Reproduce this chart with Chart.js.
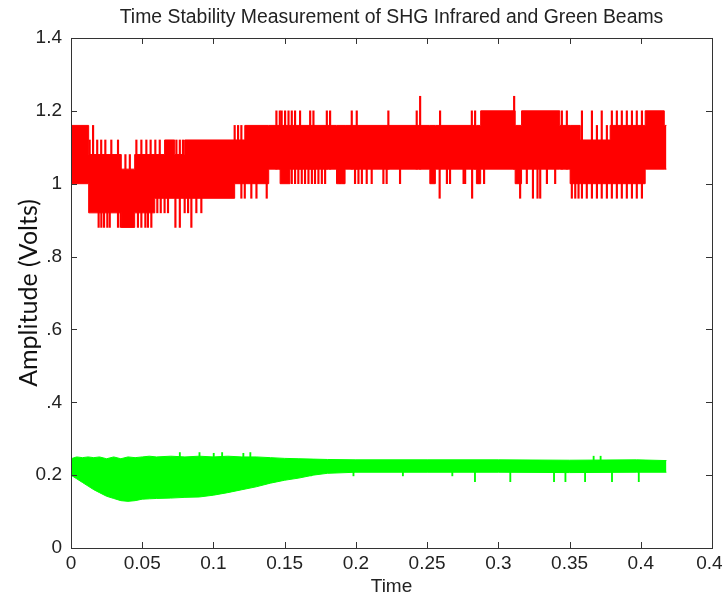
<!DOCTYPE html>
<html>
<head>
<meta charset="utf-8">
<script src="https://cdn.jsdelivr.net/npm/chart.js@4"></script>
<style>
  html, body { margin: 0; padding: 0; background: #fff; }
  #wrap { width: 723px; height: 598px; }
</style>
</head>
<body>
<div id="wrap"><canvas id="stabilityChart"></canvas></div>
<script>
// Tick labels as they appear on the figure (last one is cut at the edge)
const xTickLabels = ['0', '0.05', '0.1', '0.15', '0.2', '0.25', '0.3', '0.35', '0.4', '0.4 '];
const yTickLabels = ['0', '0.2', '.4', '.6', '.8', '1', '1.2', '1.4'];

// Infrared (red) beam: solid band, value holds until next breakpoint
const redT   = [0, 0.0124, 0.0353, 0.0447, 0.0588, 0.0657, 0.0728, 0.0798, 0.1149, 0.122, 0.1388, 0.1468, 0.1537, 0.1864, 0.1924, 0.2519, 0.2558, 0.2846, 0.2876, 0.3118, 0.3163, 0.3431, 0.3504, 0.3575, 0.3785, 0.4031, 0.4165, 0.418];
const redTop = [1.16, 1.08, 1.04, 1.08, 1.08, 1.12, 1.08, 1.12, 1.12, 1.16, 1.16, 1.16, 1.16, 1.16, 1.16, 1.16, 1.16, 1.16, 1.2, 1.16, 1.2, 1.16, 1.16, 1.12, 1.16, 1.2, 1.16, 1.16];
const redBot = [1.0, 0.92, 0.88, 0.92, 0.96, 0.96, 0.96, 0.96, 1.0, 1.0, 1.04, 1.0, 1.04, 1.0, 1.04, 1.0, 1.04, 1.0, 1.04, 1.0, 1.04, 1.04, 1.0, 1.0, 1.0, 1.04, 1.04, 1.04];

// Infrared beam: single-sample spikes (time, tip value)
const redSpikeT = [
  0.0131, 0.0155, 0.0184, 0.0212, 0.0241, 0.0283, 0.033, 0.0382, 0.0413,
  0.0459, 0.0494, 0.0529, 0.0559, 0.0592, 0.0623, 0.074, 0.0764, 0.0786,
  0.1149, 0.1173, 0.1196, 0.1442, 0.1466, 0.1479, 0.1503, 0.1527, 0.155, 0.1573,
  0.1608, 0.1679, 0.1702, 0.1796, 0.1819, 0.1971, 0.2006, 0.2228, 0.2427, 0.2451,
  0.2591, 0.2814, 0.2837, 0.3111, 0.3446, 0.3481, 0.3587, 0.3657, 0.3692, 0.3726,
  0.3762, 0.3797, 0.3832, 0.3867, 0.3902, 0.3938, 0.3972, 0.4008,
  0.0194, 0.0213, 0.0232, 0.0255, 0.0272, 0.033, 0.0349, 0.047, 0.0494, 0.0522,
  0.054, 0.0564, 0.0606, 0.063, 0.0657, 0.0681, 0.0733, 0.0764, 0.0798, 0.0822,
  0.0845, 0.088, 0.0915, 0.1196, 0.122, 0.1266, 0.1302, 0.1374,
  0.155, 0.1573, 0.1596, 0.162, 0.1643, 0.1667, 0.1691, 0.1713, 0.1737, 0.1761,
  0.1784, 0.1889, 0.1913, 0.1994, 0.2018, 0.2042, 0.2076, 0.2111, 0.2193, 0.2216,
  0.231, 0.2588, 0.2639, 0.2661, 0.2756, 0.2767, 0.2816, 0.2861, 0.29,
  0.3153, 0.32, 0.3243, 0.3275, 0.3294, 0.3341, 0.3399,
  0.3516, 0.354, 0.3563, 0.3587, 0.3621, 0.3657, 0.3692, 0.3726, 0.3762, 0.3797,
  0.3832, 0.3867, 0.3902, 0.3938, 0.3972, 0.4008
];
const redSpikeV = [
  1.12, 1.16, 1.12, 1.12, 1.12, 1.12, 1.12, 1.08, 1.08,
  1.12, 1.12, 1.12, 1.12, 1.12, 1.12, 1.12, 1.12, 1.12,
  1.16, 1.16, 1.16, 1.2, 1.2, 1.2, 1.2, 1.2, 1.2, 1.2,
  1.2, 1.2, 1.2, 1.2, 1.2, 1.2, 1.2, 1.2, 1.2, 1.24,
  1.2, 1.2, 1.2, 1.24, 1.2, 1.2, 1.2, 1.2, 1.16, 1.2,
  1.16, 1.2, 1.2, 1.2, 1.2, 1.2, 1.2, 1.2,
  0.88, 0.88, 0.88, 0.88, 0.88, 0.88, 0.88, 0.88, 0.88, 0.88,
  0.88, 0.88, 0.92, 0.92, 0.92, 0.92, 0.88, 0.88, 0.92, 0.92,
  0.88, 0.92, 0.92, 0.96, 0.96, 0.96, 0.96, 0.96,
  1.0, 1.0, 1.0, 1.0, 1.0, 1.0, 1.0, 1.0, 1.0, 1.0,
  1.0, 1.0, 1.0, 1.0, 1.0, 1.0, 1.0, 1.0, 1.0, 1.0,
  1.0, 0.96, 1.0, 1.0, 1.0, 1.0, 0.96, 1.0, 1.0,
  0.96, 1.0, 0.96, 0.96, 0.96, 1.0, 1.0,
  0.96, 0.96, 0.96, 0.96, 0.96, 0.96, 0.96, 0.96, 0.96, 0.96,
  0.96, 0.96, 0.96, 0.96, 0.96, 0.96
];

// Green beam: band envelope
const greenT   = [0, 0.004, 0.008, 0.012, 0.016, 0.02, 0.025, 0.03, 0.035, 0.04, 0.045, 0.05, 0.055, 0.06, 0.07, 0.08, 0.09, 0.1, 0.11, 0.12, 0.13, 0.14, 0.15, 0.16, 0.17, 0.18, 0.2, 0.25, 0.3, 0.35, 0.397, 0.418];
const greenTop = [0.245, 0.25, 0.248, 0.25, 0.248, 0.25, 0.245, 0.25, 0.245, 0.25, 0.248, 0.25, 0.252, 0.25, 0.252, 0.25, 0.252, 0.25, 0.252, 0.25, 0.25, 0.248, 0.246, 0.245, 0.244, 0.243, 0.242, 0.242, 0.242, 0.241, 0.242, 0.24];
const greenBot = [0.2, 0.19, 0.18, 0.17, 0.16, 0.152, 0.142, 0.136, 0.13, 0.128, 0.13, 0.134, 0.135, 0.136, 0.137, 0.139, 0.14, 0.145, 0.152, 0.16, 0.168, 0.178, 0.186, 0.192, 0.2, 0.205, 0.208, 0.208, 0.208, 0.207, 0.208, 0.208];

// Green beam spikes
const greenSpikeT = [0.0764, 0.0902, 0.1002, 0.1061, 0.121, 0.1259, 0.3669, 0.3718, 0.1686, 0.1983, 0.233, 0.2677, 0.2836, 0.3084, 0.3391, 0.3471, 0.3609, 0.3798, 0.3986];
const greenSpikeV = [0.262, 0.262, 0.26, 0.262, 0.26, 0.262, 0.252, 0.252, 0.198, 0.198, 0.198, 0.198, 0.182, 0.182, 0.182, 0.182, 0.182, 0.182, 0.182];

const RED = '#ff0000';
const GREEN = '#00ff00';
const RED_BASE = 1.04;
const GREEN_BASE = 0.22;

function pts(t, v) { return t.map((x, i) => ({ x: x, y: v[i] })); }
function spikes(t, v, base) { return t.map((x, i) => ({ x: x, y: [v[i], base] })); }

const bandLine = (data, color, fill, stepped) => ({
    type: 'line', data: data, borderColor: color, backgroundColor: color,
    borderWidth: 1, pointRadius: 0, fill: fill, stepped: stepped, tension: 0
});
const spikeBars = (data, color, w) => ({
    type: 'bar', data: data, backgroundColor: color, borderWidth: 0,
    barThickness: w, grouped: false
});

// frame box with inward ticks on all four sides (matlab look)
const frameTicks = {
    id: 'frameTicks',
    afterDatasetsDraw(chart) {
        const { ctx, chartArea: a, scales: { x, y } } = chart;
        ctx.save();
        ctx.strokeStyle = '#333';
        ctx.lineWidth = 1;
        ctx.beginPath();
        x.ticks.forEach(t => {
            const px = Math.round(x.getPixelForValue(t.value)) + 0.5;
            ctx.moveTo(px, a.bottom); ctx.lineTo(px, a.bottom - 6);
            ctx.moveTo(px, a.top); ctx.lineTo(px, a.top + 6);
        });
        y.ticks.forEach(t => {
            const py = Math.round(y.getPixelForValue(t.value)) + 0.5;
            ctx.moveTo(a.left, py); ctx.lineTo(a.left + 6, py);
            ctx.moveTo(a.right, py); ctx.lineTo(a.right - 6, py);
        });
        ctx.stroke();
        ctx.strokeRect(Math.round(a.left) + 0.5, Math.round(a.top) + 0.5,
            Math.round(a.right - a.left), Math.round(a.bottom - a.top));
        ctx.restore();
    }
};

const tickFont = { family: "'Liberation Sans', Arial, sans-serif", size: 19 };

new Chart(document.getElementById('stabilityChart'), {
    type: 'line',
    data: {
        datasets: [
            bandLine(pts(redT, redBot), RED, false, true),
            bandLine(pts(redT, redTop), RED, '-1', true),
            spikeBars(spikes(redSpikeT, redSpikeV, RED_BASE), RED, 1.5),
            bandLine(pts(greenT, greenBot), GREEN, false, false),
            bandLine(pts(greenT, greenTop), GREEN, '-1', false),
            spikeBars(spikes(greenSpikeT, greenSpikeV, GREEN_BASE), GREEN, 1.2)
        ]
    },
    options: {
        responsive: true,
        maintainAspectRatio: false,
        animation: false,
        layout: { padding: { left: 0, right: 11, top: 0, bottom: 0 } },
        plugins: {
            legend: { display: false },
            tooltip: { enabled: false },
            title: {
                display: true,
                fullSize: false,
                text: 'Time Stability Measurement of SHG Infrared and Green Beams',
                color: '#222',
                font: { family: "'Liberation Sans', Arial, sans-serif", size: 19.4, weight: 'normal' },
                padding: { top: 6, bottom: 8.7 }
            }
        },
        scales: {
            x: {
                type: 'linear',
                min: 0, max: 0.45,
                offset: false,
                grid: { display: false, drawTicks: false },
                border: { display: false },
                ticks: {
                    stepSize: 0.05, autoSkip: false, maxRotation: 0,
                    color: '#222', font: tickFont, padding: 4,
                    callback: (v, i) => xTickLabels[i]
                },
                title: {
                    display: true, text: 'Time', color: '#222',
                    font: { family: "'Liberation Sans', Arial, sans-serif", size: 19 },
                    padding: { top: 0, bottom: 0 }
                },
                afterFit: s => { s.height = 50; s.paddingLeft = 0; s.paddingRight = 0; }
            },
            y: {
                min: 0, max: 1.4,
                grid: { display: false, drawTicks: false },
                border: { display: false },
                ticks: {
                    stepSize: 0.2, color: '#222', font: tickFont, padding: 9,
                    callback: (v, i) => yTickLabels[i]
                },
                title: {
                    display: true, text: 'Amplitude (Volts)', color: '#111',
                    font: { family: "Lato, 'Open Sans', sans-serif", size: 25 },
                    padding: { top: 14, bottom: 0 }
                },
                afterFit: s => { s.width = 71; s.paddingTop = 0; s.paddingBottom = 0; }
            }
        }
    },
    plugins: [frameTicks]
});
</script>
</body>
</html>
